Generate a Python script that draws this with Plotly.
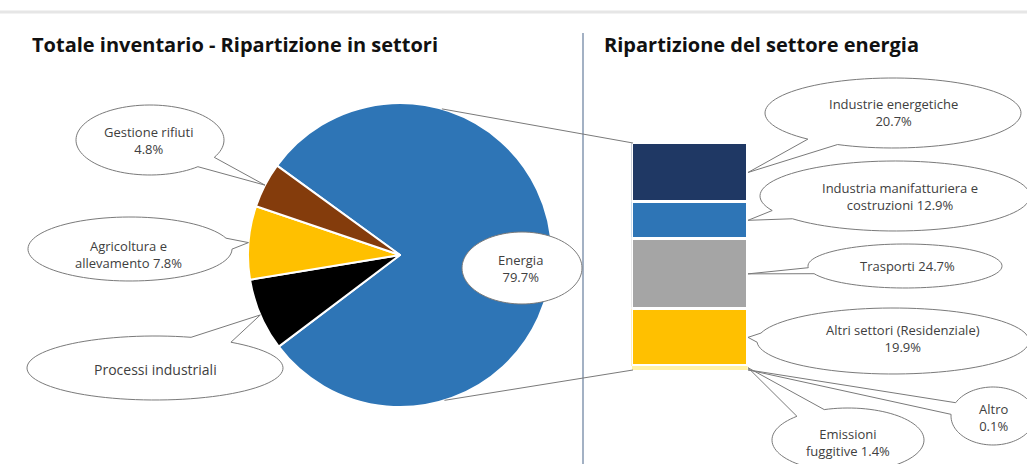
import math
import plotly.graph_objects as go

W, H = 1027, 464

# Emissioni totali per settore (%)
sectors = ["Energia", "Processi industriali", "Agricoltura e allevamento", "Gestione rifiuti"]
sector_share = [79.7, 7.7, 7.8, 4.8]
sector_colors = ["#2E75B6", "#000000", "#FFC000", "#843C0C"]

# Ripartizione del settore energia (% del totale)
energy_sub = ["Industrie energetiche", "Industria manifatturiera e costruzioni", "Trasporti",
              "Altri settori (Residenziale)", "Emissioni fuggitive", "Altro"]
energy_share = [20.7, 12.9, 24.7, 19.9, 1.4, 0.1]
energy_colors = ["#1F3864", "#2E75B6", "#A5A5A5", "#FFC000", "#FFF2A8", "#FFF2A8"]

# Testi dei fumetti
sector_text = [
    f"Energia<br>{sector_share[0]}%",
    "Processi industriali",
    f"Agricoltura e<br>allevamento {sector_share[2]}%",
    f"Gestione rifiuti<br>{sector_share[3]}%",
]
energy_text = [
    f"Industrie energetiche<br>{energy_share[0]}%",
    f"Industria manifatturiera e<br>costruzioni {energy_share[1]}%",
    f"Trasporti {energy_share[2]}%",
    f"Altri settori (Residenziale)<br>{energy_share[3]}%",
    f"Emissioni<br>fuggitive {energy_share[4]}%",
    f"Altro<br>{energy_share[5]}%",
]

# --- geometria (pixel) ---
PIE_CX, PIE_CY, PIE_R = 400, 255, 152
PIE_ROT = -54
BAR_X0, BAR_X1 = 633, 746
BAR_TOP = 143
PX_PER_PCT = 2.848

def px(x):
    return x / W

def py(y):
    return 1 - y / H

# angoli delle fette (gradi in senso orario dalle ore 12)
total = sum(sector_share)
slice_mid = []
acc = PIE_ROT
for v in sector_share:
    span = 360 * v / total
    slice_mid.append(acc + span / 2)
    acc += span

def pie_point(angle_deg, r=PIE_R):
    a = math.radians(angle_deg)
    return PIE_CX + r * math.sin(a), PIE_CY - r * math.cos(a)

# centri dei segmenti della barra
bar_mid = []
cum = 0
for v in energy_share:
    bar_mid.append(BAR_TOP + PX_PER_PCT * (cum + v / 2))
    cum += v
bar_bottom = BAR_TOP + PX_PER_PCT * cum

fig = go.Figure()

fig.add_trace(go.Pie(
    labels=sectors, values=sector_share, sort=False, direction="clockwise",
    rotation=PIE_ROT, textinfo="none", hoverinfo="skip", showlegend=False,
    marker=dict(colors=sector_colors, line=dict(color="white", width=2)),
    domain=dict(x=[px(PIE_CX - PIE_R), px(PIE_CX + PIE_R)],
                y=[py(PIE_CY + PIE_R), py(PIE_CY - PIE_R)]),
))

for i, (name, v, c) in enumerate(zip(energy_sub, energy_share, energy_colors)):
    fig.add_trace(go.Bar(
        x=[0], y=[v], name=name, width=1, showlegend=False, hoverinfo="skip",
        marker=dict(color=c, line=dict(color="white", width=3 if v > 5 else 0)),
    ))

fig.update_layout(
    width=W, height=H, margin=dict(l=0, r=0, t=0, b=0),
    paper_bgcolor="white", plot_bgcolor="rgba(0,0,0,0)",
    barmode="stack", bargap=0,
    xaxis=dict(domain=[px(BAR_X0 - 1.5), px(BAR_X1 + 1.5)], range=[-0.5, 0.5],
               visible=False, fixedrange=True),
    yaxis=dict(domain=[0, 1], range=[(H - BAR_TOP) / PX_PER_PCT, -BAR_TOP / PX_PER_PCT],
               visible=False, fixedrange=True),
)

shapes = []
LINE = "#7A7A7A"

# riga grigia in alto e separatore verticale
shapes.append(dict(type="line", xref="paper", yref="paper", x0=0, x1=1, y0=py(12), y1=py(12),
                   line=dict(color="#E6E6E6", width=3)))
shapes.append(dict(type="line", xref="paper", yref="paper", x0=px(583), x1=px(583),
                   y0=py(33), y1=0, line=dict(color="#8497B0", width=1.5)))

# linee di collegamento torta -> barra
tx, ty = pie_point(16)
bx, by = pie_point(163)
shapes.append(dict(type="line", xref="paper", yref="paper", x0=px(tx), y0=py(ty),
                   x1=px(BAR_X0), y1=py(BAR_TOP), line=dict(color=LINE, width=1)))
shapes.append(dict(type="line", xref="paper", yref="paper", x0=px(bx), y0=py(by),
                   x1=px(BAR_X0), y1=py(bar_bottom), line=dict(color=LINE, width=1)))

def bubble(cx, cy, rx, ry, tip=None, spread=10, n=96):
    pts = []
    if tip is None:
        for i in range(n + 1):
            t = 2 * math.pi * i / n
            pts.append((cx + rx * math.cos(t), cy + ry * math.sin(t)))
    else:
        a = math.atan2((tip[1] - cy) / ry, (tip[0] - cx) / rx)
        s = math.radians(spread)
        t0, t1 = a + s, a + 2 * math.pi - s
        for i in range(n + 1):
            t = t0 + (t1 - t0) * i / n
            pts.append((cx + rx * math.cos(t), cy + ry * math.sin(t)))
        pts.append(tip)
    path = "M " + " L ".join(f"{px(x):.5f},{py(y):.5f}" for x, y in pts) + " Z"
    return dict(type="path", xref="paper", yref="paper", path=path,
                fillcolor="white", line=dict(color=LINE, width=1), layer="above")

annotations = []

def label(x, y, text, size=13):
    annotations.append(dict(x=px(x), y=py(y), xref="paper", yref="paper", text=text,
                            showarrow=False, xanchor="center", yanchor="middle",
                            font=dict(family="Open Sans", size=size, color="#404040")))

# fumetti torta: (cx, cy, rx, ry, testo_x, testo_y)
pie_bubbles = {
    0: (522, 268, 60, 36, 520, 268),
    1: (155, 368, 128, 32, 155, 369),
    2: (130, 249, 102, 32, 128, 254),
    3: (150, 140, 74, 35, 148, 140),
}
for i, (cx, cy, rx, ry, lx, ly) in pie_bubbles.items():
    tip = None if i == 0 else pie_point(slice_mid[i])
    shapes.append(bubble(cx, cy, rx, ry, tip))
    label(lx, ly, sector_text[i], size=14 if i == 1 else 13)

# fumetti barra
bar_bubbles = [
    (893, 113, 128, 35, 893, 113),
    (895, 196, 135, 35, 900, 197),
    (905, 266, 97, 22, 907, 266),
    (893, 341, 136, 33, 903, 338),
    (848, 440, 76, 32, 848, 442),
    (993, 416, 42, 29, 993, 417),
]
for i, (cx, cy, rx, ry, lx, ly) in enumerate(bar_bubbles):
    tip = (BAR_X1 + 2, bar_mid[i])
    shapes.append(bubble(cx, cy, rx, ry, tip, spread=8 if i < 4 else 12))
    label(lx, ly, energy_text[i])

# titoli
for x, t in [(30, "Totale inventario - Ripartizione in settori"),
             (602, "Ripartizione del settore energia")]:
    annotations.append(dict(x=px(x), y=py(45), xref="paper", yref="paper", text=f"<b>{t}</b>",
                            showarrow=False, xanchor="left", yanchor="middle",
                            font=dict(family="Open Sans", size=20, color="#111111")))

fig.update_layout(shapes=shapes, annotations=annotations)
fig.write_html("out.html", config={"displayModeBar": False})
